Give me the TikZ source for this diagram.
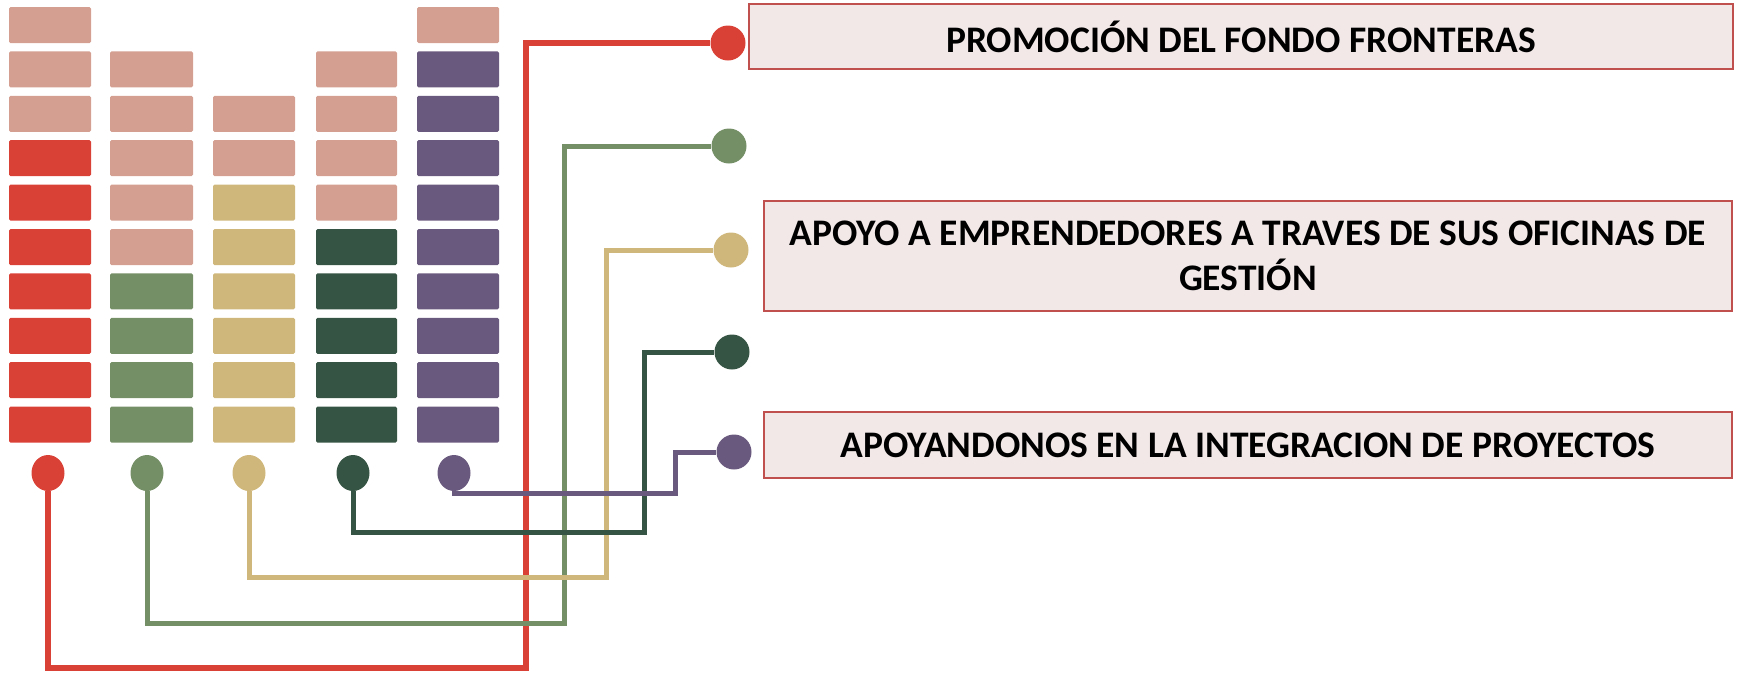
\documentclass[tikz,border=0pt]{standalone}
\usepackage{fontspec}
\setmainfont{Carlito}
\usepackage{xcolor}
\usetikzlibrary{shapes.geometric}

\definecolor{barpink}{HTML}{D49E91}
\definecolor{barred}{HTML}{DA4136}
\definecolor{bargreen}{HTML}{748F66}
\definecolor{bartan}{HTML}{CFB77B}
\definecolor{bardkgreen}{HTML}{355443}
\definecolor{barpurple}{HTML}{6A597E}
\definecolor{boxfill}{HTML}{F2E8E8}
\definecolor{boxline}{HTML}{C0504D}

\tikzset{
  bar/.style={rounded corners=1.5pt},
  dot/.style={circle, inner sep=0pt, minimum size=35pt},
  footdot/.style={ellipse, inner sep=0pt, minimum width=33pt, minimum height=36pt},
  link/.style={line width=5pt},
  lbox/.style={draw=boxline, fill=boxfill, line width=2.8pt, inner sep=0pt,
    align=center, font=\fontsize{37.5}{45}\selectfont\bfseries}
}

\begin{document}
\begin{tikzpicture}[x=1pt,y=-1pt]
\useasboundingbox (0,0) rectangle (1739,673);

% bars
\foreach \r in {0,1,2} \fill[barpink,bar] (9,7+44.4*\r) rectangle ++(82,36);
\foreach \r in {3,...,9} \fill[barred,bar] (9,7+44.4*\r) rectangle ++(82,36);

\foreach \r in {1,...,5} \fill[barpink,bar] (110,7+44.4*\r) rectangle ++(83,36);
\foreach \r in {6,...,9} \fill[bargreen,bar] (110,7+44.4*\r) rectangle ++(83,36);

\foreach \r in {2,3} \fill[barpink,bar] (213,7+44.4*\r) rectangle ++(82,36);
\foreach \r in {4,...,9} \fill[bartan,bar] (213,7+44.4*\r) rectangle ++(82,36);

\foreach \r in {1,...,4} \fill[barpink,bar] (316,7+44.4*\r) rectangle ++(81,36);
\foreach \r in {5,...,9} \fill[bardkgreen,bar] (316,7+44.4*\r) rectangle ++(81,36);

\fill[barpink,bar] (417,7) rectangle ++(82,36);
\foreach \r in {1,...,9} \fill[barpurple,bar] (417,7+44.4*\r) rectangle ++(82,36);

% dots
\node[footdot, fill=barred] (redB) at (48,473) {};
\node[footdot, fill=bargreen] (greenB) at (147,473) {};
\node[footdot, fill=bartan] (tanB) at (249,473) {};
\node[footdot, fill=bardkgreen] (dkgreenB) at (353,473) {};
\node[footdot, fill=barpurple] (purpleB) at (454,473) {};

\node[dot, fill=barred] (redT) at (728,43) {};
\node[dot, fill=bargreen] (greenT) at (729,146) {};
\node[dot, fill=bartan] (tanT) at (731,250) {};
\node[dot, fill=bardkgreen] (dkgreenT) at (732,352) {};
\node[dot, fill=barpurple] (purpleT) at (734,452) {};

% links
\draw[link, barred, line width=5.5pt] (redB) |- (526,668) |- (redT);
\draw[link, bargreen] (greenB) |- (564,623) |- (greenT);
\draw[link, bartan] (tanB) |- (606,577) |- (tanT);
\draw[link, bardkgreen] (dkgreenB) |- (644,532) |- (dkgreenT);
\draw[link, barpurple] (purpleB) |- (675,493) |- (purpleT);

% labels
\node[lbox, minimum width=984pt, minimum height=65pt] (promo) at (1241,36.5)
{PROMOCIÓN DEL FONDO FRONTERAS};
\node[lbox, minimum width=968pt, minimum height=110pt] (apoyo) at (1248,256)
{APOYO A EMPRENDEDORES A TRAVES DE SUS OFICINAS DE\\ GESTIÓN};
\node[lbox, minimum width=968pt, minimum height=66pt] (integ) at (1248,445)
{APOYANDONOS EN LA INTEGRACION DE PROYECTOS};

\end{tikzpicture}
\end{document}
